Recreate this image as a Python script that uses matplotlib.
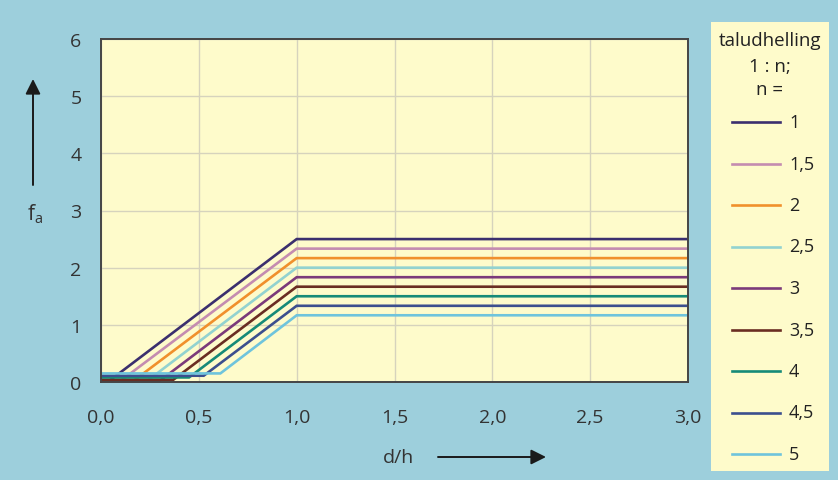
import matplotlib
matplotlib.use("Agg")
import matplotlib.pyplot as plt
from matplotlib.patches import Rectangle
from matplotlib.lines import Line2D

plt.rcParams['font.family'] = ['Open Sans', 'DejaVu Sans']
plt.rcParams['mathtext.fontset'] = 'custom'
plt.rcParams['mathtext.rm'] = 'Open Sans'
plt.rcParams['mathtext.it'] = 'Open Sans'

# ---- data ----
n_labels = ["1", "1,5", "2", "2,5", "3", "3,5", "4", "4,5", "5"]
low_level = [0.02, 0.02, 0.03, 0.03, 0.02, 0.04, 0.08, 0.11, 0.15]
knee_x = [0.042, 0.10, 0.17, 0.24, 0.30, 0.37, 0.45, 0.525, 0.61]
plateau_x = [1.0] * 9
plateau = [2.5, 2.333, 2.167, 2.0, 1.833, 1.667, 1.5, 1.333, 1.167]
x_end = 3.0
colors = ["#3b2f6e", "#c48cb0", "#f0902c", "#92d2d0", "#7b3a7a",
          "#6a2d22", "#168a78", "#3c4f8e", "#6fc4dc"]

x_ticks = [0.0, 0.5, 1.0, 1.5, 2.0, 2.5, 3.0]
x_ticklabels = ["0,0", "0,5", "1,0", "1,5", "2,0", "2,5", "3,0"]
y_ticks = [0, 1, 2, 3, 4, 5, 6]

BG = "#9dcfdc"
PLOT_BG = "#fefbcb"
W, H = 838, 481

fig = plt.figure(figsize=(W / 100, H / 100), dpi=100, facecolor=BG)
ax = fig.add_axes([101 / W, 1 - 383 / H, (688 - 101) / W, (383 - 40) / H])
ax.set_facecolor(PLOT_BG)

for i in range(len(n_labels)):
    xs = [0.0, knee_x[i], plateau_x[i], x_end]
    ys = [low_level[i], low_level[i], plateau[i], plateau[i]]
    ax.plot(xs, ys, color=colors[i], lw=1.9, solid_joinstyle='miter', zorder=3)

ax.set_xlim(0, 3.0)
ax.set_ylim(0, 6)
ax.set_xticks(x_ticks)
ax.set_xticklabels(x_ticklabels)
ax.set_yticks(y_ticks)
ax.grid(True, color="#d6d3bd", lw=1.0, zorder=0)
ax.set_axisbelow(True)
ax.tick_params(length=0, labelsize=14, labelcolor="#333333")
ax.tick_params(axis='x', pad=19)
ax.tick_params(axis='y', pad=14)
for s in ax.spines.values():
    s.set_color("#454545")
    s.set_linewidth(1.4)
    s.set_zorder(4)

# axis labels with arrows
fig.text(35 / W, 1 - 214 / H, r"f$_{\mathrm{a}}$", fontsize=15, color="#333333",
         ha='center', va='center')
fig.add_artist(matplotlib.patches.FancyArrowPatch(
    (33 / W, 1 - 186 / H), (33 / W, 1 - 80 / H), transform=fig.transFigure,
    arrowstyle='-|>,head_length=9,head_width=4.5', mutation_scale=1,
    color="#1a1a1a", lw=1.4, shrinkA=0, shrinkB=0))
fig.text(398 / W, 1 - 458 / H, "d/h", fontsize=14, color="#333333",
         ha='center', va='center')
fig.add_artist(matplotlib.patches.FancyArrowPatch(
    (438 / W, 1 - 458 / H), (546 / W, 1 - 458 / H), transform=fig.transFigure,
    arrowstyle='-|>,head_length=9,head_width=4.5', mutation_scale=1,
    color="#1a1a1a", lw=1.4, shrinkA=0, shrinkB=0))

# legend box (built from the series colors and labels)
fig.add_artist(Rectangle((711 / W, 1 - 472 / H), (829 - 711) / W, (472 - 23) / H,
                         transform=fig.transFigure, facecolor=PLOT_BG,
                         edgecolor='none', zorder=0))
for txt, yy in zip(["taludhelling", "1 : n;", "n ="], [41, 67, 90]):
    fig.text(770 / W, 1 - yy / H, txt, fontsize=13.5, color="#222222",
             ha='center', va='center')
entry_y0, entry_step = 123, 41.5
for i, lab in enumerate(n_labels):
    yy = 1 - (entry_y0 + i * entry_step) / H
    fig.add_artist(Line2D([732 / W, 780 / W], [yy, yy], transform=fig.transFigure,
                          color=colors[i], lw=1.9))
    fig.text(789 / W, yy, lab, fontsize=13, color="#222222", ha='left', va='center')

fig.savefig("out.png", dpi=100, facecolor=BG)
